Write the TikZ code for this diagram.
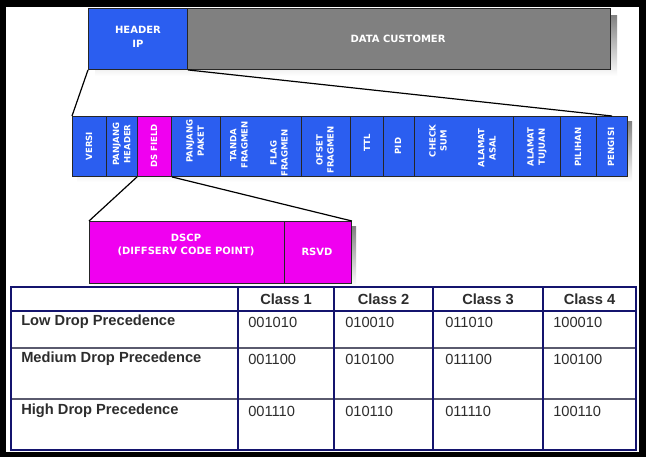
\documentclass[tikz,border=0pt]{standalone}
\usepackage{fontspec}
\setmainfont{Liberation Sans}
\newfontfamily\boxfont{DejaVu Sans}
\usetikzlibrary{calc}
\definecolor{ipblue}{RGB}{43,94,240}
\definecolor{dsmag}{RGB}{240,0,240}
\definecolor{datagray}{RGB}{128,128,128}
\definecolor{shade}{RGB}{195,195,195}
\definecolor{navy}{RGB}{20,20,110}
\definecolor{rowgray}{RGB}{90,90,110}
\definecolor{txt}{RGB}{45,45,45}
\begin{document}
\begin{tikzpicture}[x=0.75pt,y=-0.75pt,
  cell/.style n args={2}{draw=black!85, line width=0.7pt, inner sep=0pt, anchor=north west,
    minimum width=#1*0.75pt, minimum height=#2*0.75pt},
  ftxt/.style={text=white, font=\boxfont\bfseries\fontsize{6.4}{8.4}\selectfont, rotate=90, align=center, inner sep=0pt},
  wtxt/.style={text=white, font=\boxfont\bfseries\fontsize{7.5}{10}\selectfont, align=center, inner sep=0pt},
  conn/.style={draw=black, line width=0.9pt},
  tlab/.style={text=txt, font=\bfseries\fontsize{11}{13}\selectfont, anchor=west, inner sep=0pt},
  tval/.style={text=txt, font=\fontsize{11}{13}\selectfont, anchor=west, inner sep=0pt},
  thead/.style={text=txt, font=\bfseries\fontsize{11}{13}\selectfont, inner sep=0pt}
]
\fill[black] (0,0) rectangle (646,457);
\fill[white] (6,7) rectangle (639,452);
\useasboundingbox (0,0) rectangle (646,457);

% top bar
\fill[shade] (95,15) rectangle (617,76);
\node[cell={99}{61}, fill=ipblue] (hdr) at (88,8) {};
\node[cell={423}{61}, fill=datagray] (data) at (187,8) {};
\node[wtxt] (hdrtxt) at (138,37) {HEADER\\IP};
\node[wtxt] (datatxt) at (398,39) {DATA CUSTOMER};

% field row
\fill[shade] (77,121) rectangle (632,182);
\foreach \i/\xa/\w/\c in {1/72/34/ipblue, 2/106/31/ipblue, 3/137/34/dsmag, 4/171/49/ipblue,
  5/220/81/ipblue, 6/301/49/ipblue, 7/350/33/ipblue, 8/383/31/ipblue, 9/414/99/ipblue,
  10/513/47/ipblue, 11/560/36/ipblue, 12/596/31/ipblue}
  \node[cell={\w}{60}, fill=\c] (f\i) at (\xa,116) {};

\node[ftxt] (t1) at (89,146) {VERSI};
\node[ftxt] (t2) at (121.5,144) {PANJANG\\HEADER};
\node[ftxt] (t3) at (154,146) {DS FIELD};
\node[ftxt] (t4) at (195,141) {PANJANG\\PAKET};
\node[ftxt] (t5a) at (239,145) {TANDA\\FRAGMEN};
\node[ftxt] (t5b) at (279,153) {FLAG\\FRAGMEN};
\node[ftxt] (t6) at (325,150) {OFSET\\FRAGMEN};
\node[ftxt] (t7) at (367,143) {TTL};
\node[ftxt] (t8) at (398,146) {PID};
\node[ftxt] (t9a) at (438,141) {CHECK\\SUM};
\node[ftxt] (t9b) at (487,148) {ALAMAT\\ASAL};
\node[ftxt] (t10) at (537,147) {ALAMAT\\TUJUAN};
\node[ftxt] (t11) at (578,147) {PILIHAN};
\node[ftxt] (t12) at (611,147) {PENGISI};

\draw[conn] (hdr.south west) -- (f1.north west);
\draw[conn] (hdr.south east) -- (f12.north);

% DSCP box
\fill[shade] (94,226) rectangle (356,286);
\node[cell={195}{62}, fill=dsmag] (dscp) at (89,221) {};
\node[cell={67}{62}, fill=dsmag] (rsvd) at (284,221) {};
\node[wtxt] (dscptxt) at (186,245) {DSCP\\(DIFFSERV CODE POINT)};
\node[wtxt] (rsvdtxt) at (317,252) {RSVD};

\draw[conn] (f3.south west) -- (dscp.north west);
\draw[conn] (f3.south east) -- (rsvd.north east);

% table
\fill[white] (11,287) rectangle (636,450);
\draw[rowgray, line width=0.9pt] (11,348) -- (636,348) (11,399) -- (636,399);
\draw[navy, line width=1.2pt] (11,311) -- (636,311);
\draw[navy, line width=1.5pt] (238,287) -- (238,450) (334,287) -- (334,450)
  (433,287) -- (433,450) (543,287) -- (543,450);
\draw[navy, line width=1.8pt] (11,287) rectangle (636,450);

\node[thead] (c1) at (286,299) {Class 1};
\node[thead] (c2) at (383.5,299) {Class 2};
\node[thead] (c3) at (488,299) {Class 3};
\node[thead] (c4) at (589.5,299) {Class 4};

\node[tlab] (r1) at (21,322) {Low Drop Precedence};
\node[tlab] (r2) at (21,359) {Medium Drop Precedence};
\node[tlab] (r3) at (21,411) {High Drop Precedence};

\node[tval] (v11) at (248,322) {001010};
\node[tval] (v12) at (345,322) {010010};
\node[tval] (v13) at (445,322) {011010};
\node[tval] (v14) at (553,322) {100010};
\node[tval] (v21) at (248,359) {001100};
\node[tval] (v22) at (345,359) {010100};
\node[tval] (v23) at (445,359) {011100};
\node[tval] (v24) at (553,359) {100100};
\node[tval] (v31) at (248,411) {001110};
\node[tval] (v32) at (345,411) {010110};
\node[tval] (v33) at (445,411) {011110};
\node[tval] (v34) at (553,411) {100110};
\end{tikzpicture}
\end{document}
